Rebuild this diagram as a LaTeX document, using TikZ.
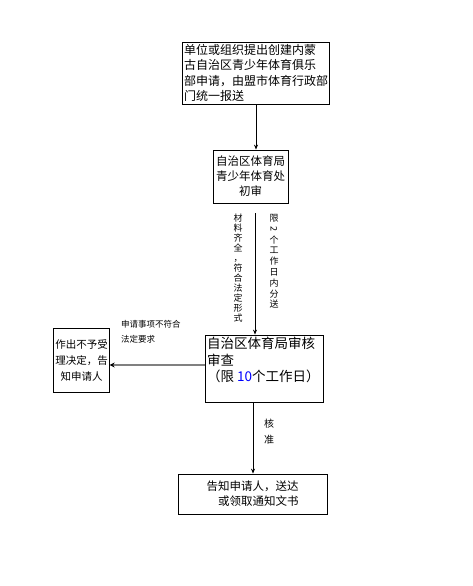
\documentclass[tikz,border=0pt]{standalone}
\usepackage{fontspec}
\newfontfamily\cjk{Noto Sans CJK SC}
\usetikzlibrary{arrows.meta}

\begin{document}
\begin{tikzpicture}[x=1pt,y=-1pt,
    box/.style={draw, thick, inner sep=1.5pt, font=\cjk},
    lbl/.style={inner sep=0pt, font=\cjk},
    arr/.style={-{Stealth[length=5pt,width=4pt]}, thick}]
    \useasboundingbox (0,0) rectangle (472,586);

    % Boxes
    \node[box, minimum width=146, minimum height=62, align=left, font=\cjk\fontsize{12}{15.5}\selectfont] (b1) at (256,73)
        {单位或组织提出创建内蒙\\古自治区青少年体育俱乐\\部申请，由盟市体育行政部\\门统一报送};
    \node[box, minimum width=75, minimum height=53, align=center, font=\cjk\fontsize{11.5}{15}\selectfont] (b2) at (250.5,176.5)
        {自治区体育局\\青少年体育处\\初审};
    \node[box, minimum width=55, minimum height=64, align=center, font=\cjk\fontsize{10.5}{16}\selectfont] (b3) at (81.5,360)
        {作出不予受\\理决定，告\\知申请人};
    \node[box, minimum width=118, minimum height=67, font=\cjk\fontsize{13.5}{16.5}\selectfont] (b4) at (264,368.5)
        {\parbox[t][62pt][t]{114pt}{自治区体育局审核\\审查\\（限 {\color{blue}10}个工作日）}};
    \node[box, minimum width=149, minimum height=40, align=center, font=\cjk\fontsize{11.5}{15}\selectfont] (b5) at (252.5,494)
        {告知申请人，送达\\\hspace*{1em}或领取通知文书};

    % Labels
    \node[lbl, anchor=north, align=center, font=\cjk\fontsize{9}{10}\selectfont] (l1) at (238,214)
        {材\\料\\齐\\全\\，\\符\\合\\法\\定\\形\\式};
    \node[lbl, anchor=north, align=center, font=\cjk\fontsize{9}{10.8}\selectfont] (l2) at (274,214)
        {限\\\rotatebox[origin=c]{-90}{2}\\个\\工\\作\\日\\内\\分\\送};
    \node[lbl, anchor=north west, align=left, font=\cjk\fontsize{8.5}{15}\selectfont] (l3) at (121,320)
        {申请事项不符合\\法定要求};
    \node[lbl, align=center, font=\cjk\fontsize{10}{16}\selectfont] (l4) at (269,432)
        {核\\准};

    % Arrows
    \coordinate (c2) at (255,0);
    \coordinate (c3) at (0,365);
    \coordinate (c4) at (253,0);
    \draw[arr] (b1.south) -- (b1.south |- b2.north);
    \draw[arr, shorten <=10] (b2.south -| c2) -- (b4.north -| c2);
    \draw[-{Stealth[black,length=5pt,width=5pt]}, line width=2.5pt, gray] (b4.west |- c3) -- (b3.east |- c3);
    \draw[arr] (b4.south -| c4) -- (b5.north -| c4);
\end{tikzpicture}
\end{document}
